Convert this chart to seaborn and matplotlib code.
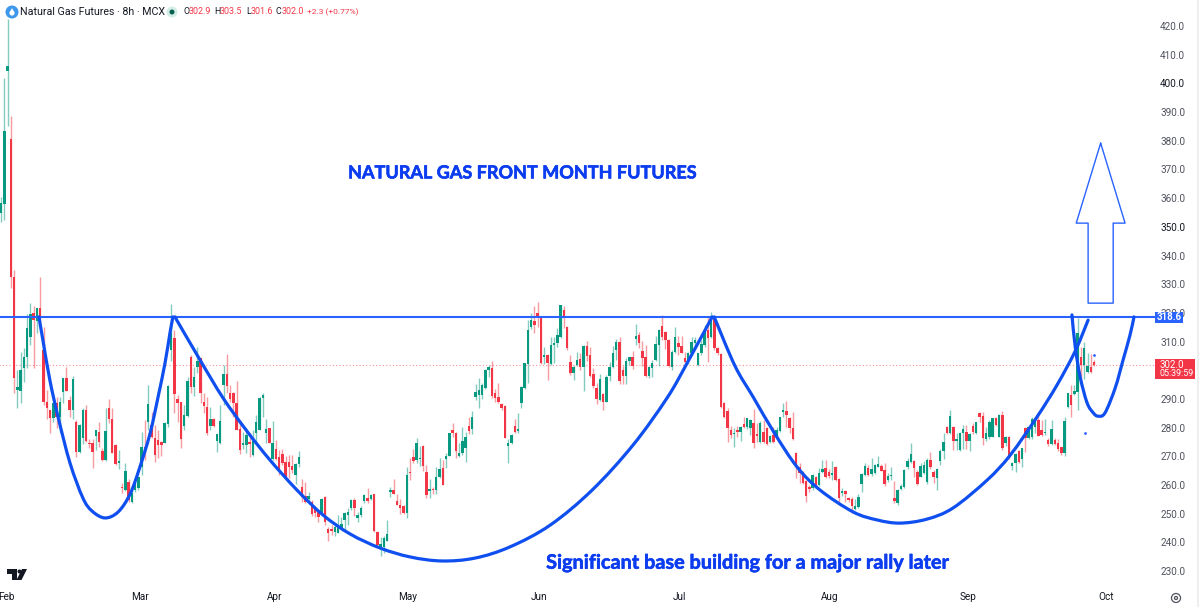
import matplotlib
matplotlib.use("Agg")
import matplotlib.pyplot as plt
import matplotlib.patheffects as pe
from matplotlib.patches import Circle, PathPatch, Polygon, Rectangle
from matplotlib.path import Path
from matplotlib.transforms import Affine2D
import numpy as np
import pandas as pd
import seaborn as sns

# candles as (open, high, low, close)
bars_feb = [
    (354.7,360.5,351.8,358.2),(357.8,402,352.4,383.5),(404.5,422.5,385,406),(380.6,388.6,328.6,332.6),
    (332.6,335,292,297.2),(293,300,286.7,294),(292.9,306.5,288.5,300.1),(300.7,307.6,296,304.5),
    (304.5,319.6,300.7,314.6),(311.5,323.5,308.8,319.6),(319.8,322.4,300.9,317.5),(317,321.8,312.9,321.6),
    (321.6,332.4,316.4,317),(307,315,287.9,289),(289,293,283,286.7),(286,286.3,278,283.5),
    (283.5,288.7,281.8,288.5),(288.5,290.8,280,283.8),(283.8,290.8,278,289),(292.5,297.4,288.5,297.2),
    (297.2,301,292.7,292.9),(289.6,291,283.8,286.1),(286.1,298,282.9,296.8),(282,282.6,269.9,271.6),
    (271.5,281.2,271.3,281),(276.3,287,274.2,286.1),(286.1,287.9,275,275.4),(274.8,275.9,272.8,274.3),
    (274.7,276.2,265.8,271.4),(277,279.3,272.2,279),(278.6,282,273.4,275.1),(272,272.9,268.5,268.7),
    (268.7,286.7,268.5,278.9),(287,289.9,281.5,282.9),(282.9,286.7,271.1,271.3),(273.9,274.2,267,267.2),
    (267.8,272.2,265.4,268.1),(259.2,260.6,257.3,258.8),(258.2,267.5,258,265),(261,262,254,254.8),
]
bars_mar_apr = [
    (254.2,258.2,253.6,257.3),(258.2,261,257.5,260.5),(258.8,263,258.2,262.9),(266.4,278.6,263.5,273.4),
    (273.4,282.6,268.7,271),(282,295,279,288.2),(280.9,285.6,276.3,276.8),(276.3,280.9,268,270.4),
    (275.7,279.2,269.3,273.9),(275.1,275.5,270.2,273.9),(274.8,282,274.5,281.5),(281.3,295,280.3,294.5),
    (307,323,303.3,313),(311.1,314,285,291.7),(289.9,291.4,282,288.7),(288.8,289,273,276),
    (280.6,287.9,279.2,284.4),(284,297.5,283.7,296.2),(304.7,305.3,292,294),(294.3,301.2,291,297.5),
    (301,308,298.9,303.3),(304.1,304.3,288.5,292),(289,292,285,287.5),(287.3,290.8,277.4,278.2),
    (280.6,287.3,279.2,283),(283,283.2,280.2,280.6),(275.3,277.9,271.4,277.7),(274.7,287.9,274.4,282.4),
    (294.9,301.8,287.9,298.7),(298.7,305.7,292.2,294.5),(291.9,295,289,289.9),(292.2,292.4,283.8,288.5),
    (288.5,296.4,279,279.2),(279.4,282,270.8,272.2),(273.9,278.6,272.4,274.7),(273.9,279.7,271,277.4),
    (274.6,278,269.9,274.4),(270.4,279.2,270.2,275.4),(278,284.4,274.5,282),(279.2,290.8,279,290.2),
    (290.2,292,283.8,291.4),(278,282.9,274.5,279.4),(279.7,279.9,274.5,274.7),(268.9,282.4,268.7,274.7),
    (272.4,275.7,268.7,268.9),(269.9,272.2,263.5,265.2),(270.8,272.4,267,267.5),(268.1,270,261.7,262.3),
    (268.1,270.4,262.3,266.4),(266.6,270.4,264,265.2),(263.5,267.5,260.3,267.3),(267.3,271.8,266.4,269.9),
    (259.2,262,254.2,255.9),(256.1,261.1,253.6,254.2),(255,257.7,253.6,256.1),(254.2,254.8,249.2,249.9),
    (251.9,252.5,248.9,250.3),(250.7,251.2,247.2,248.7),(250.3,255.3,250.1,255.1),(255.7,256,246,247.2),
    (244.5,245.4,240.6,243.4),(244.5,245.9,242.6,244),(243.7,246.6,242.2,245.2),(243.4,249.5,243.1,245.7),
    (244.9,249,244.5,246.4),(247.8,250.7,244.3,250.1),(249.5,251.9,246,250.7),(251.9,255,251.2,254.8),
    (254.9,255.3,249.2,251.8),(248.4,250.7,247.2,249.5),(249.5,252.5,248.7,251.9),(254.5,257,253.8,256.5),
    (255.3,258.8,253.8,254.5),(255,257,254.8,256.5),(256.8,257,243.6,244),(243.7,243.9,238.5,239),
    (238.5,242,235.3,239.4),(238.5,242.2,236.2,241.4),(240.6,247.8,240.3,242.8),(257.7,259.4,255.7,258.2),
    (258.2,262,256.8,257),(254.5,257,253,253),(253,255,249.9,251.9),(252.7,253,250,250.3),
    (250.3,266.4,248.4,263.5),(264.5,269.5,261.7,264),
]
bars_may_jul = [
    (269.9,272.4,267.8,268.5),(268.7,276.3,267.8,274.5),(269,273.6,266.6,269.5),(273.6,274,265,266.6),
    (264.6,267,255.3,256.5),(258,262,255.3,258.5),(258.6,259.4,257,258.2),(258.2,266.4,257,262.9),
    (262.9,269.3,262.3,265.4),(265.8,268.7,260,260),(268.9,271,265.8,270.1),(270.1,278.2,270,278),
    (279,281.7,276.8,278),(278.2,278.6,269.3,272),(270.2,274.5,269.8,271),(271,280.3,270.5,275.4),
    (272.8,278.6,268.1,276.6),(280.6,283.8,277.9,278.9),(279.4,285.8,277.8,283.8),(290.6,295.2,289.6,292.5),
    (291.4,297.2,287,293.2),(291.4,295.4,289.9,294.9),(293.7,300.3,293.4,300.1),(300.1,301.8,297.5,301),
    (300.7,303.3,290.2,291),(292,293.3,289,290.2),(290.6,295.4,288.5,289),(288.1,288.7,286.1,286.7),
    (287.5,287.9,276.3,276.3),(273.7,275.9,267.5,274.7),(274.5,277.8,274.2,277.4),(280.6,282.9,278,278.6),
    (278.9,285.2,278.2,279.4),(288.5,294.5,286.7,294),(293.7,302.6,293.4,302.4),(302.2,317.5,295.4,314),
    (315.2,319.8,314.3,317.5),(317.3,322.4,312.9,315.8),(320,323.9,315,318.1),(318.1,318.3,302.2,302.4),
    (304.7,308,302.2,305.3),(305.3,305.7,296.6,302.4),(302.2,311.7,301.8,308.8),(308.8,311.7,302.4,309.4),
    (309.4,314.6,308,312.3),(311.7,322.7,311.4,322.7),(321,322.5,314.6,318.1),(315,315.4,307,307.6),
    (303,305.3,298.3,298.9),(299.2,301.8,296.6,301.2),(301.8,306.5,301.4,303.6),(303.8,305.9,300,301),
    (301,308.8,292.9,308.5),(308.5,310.2,303.3,305),(305.3,308.2,297.8,298),(298.7,300.7,293.7,294.5),
    (293.7,295.4,288.2,289.9),(289.6,298.7,289.4,296.8),(291.7,292,286.1,289),(289,298.3,288.8,297.5),
    (298,303,296.4,301),(301,308.5,300.7,306.1),(307,311,303.6,310),(310,311.5,295.2,296.4),
    (300.1,301.5,295.2,298),(298,304.1,295.2,303.3),(303.3,304.7,301.8,304.7),(304.7,306.8,300.3,301.5),
    (311,316.1,308.8,311.9),(312.3,313.4,307.6,309.6),(306.7,310.3,301.5,304.2),(304.7,308.8,297.8,298),
    (298,301.5,297.2,301),(300.7,303.6,297.5,302.4),(303.6,311.9,303.3,309.1),(308.8,314.3,301.5,314),
    (315.4,319.3,310.5,311.7),(313.4,313.8,307.3,310.5),(310.5,310.8,301,301.5),(301,307,300,306.5),
    (306.5,315.2,306.1,311.5),(309.4,311.9,305.3,308.2),(308.5,311.9,305.9,306.1),(304.1,306.5,302.2,303),
    (303,306.5,302.2,305.9),(305.9,311.7,305.6,310),(309.6,311.7,307.6,310.5),(301.7,306.1,301.4,305.9),
    (305.9,310.5,305.3,309.1),(308.8,315.8,308.2,313.4),(314,318.7,303,311.1),(311.7,320.4,311.1,317.7),
    (317.7,318,307.2,307.6),(307.6,308,305.3,305.9),(305.7,306,286.8,287.1),(288.5,288.8,283.2,283.8),
    (285.9,286.7,275,279.7),(279.2,280.6,276.3,277.4),(277.7,280,273.4,278.2),(279.2,280.6,276.6,278.5),
]
bars_jul_sep = [
    (278.6,280.5,275.4,280.1),(281.2,283.8,280,280.1),(280.3,283.4,279.6,283.2),(279.7,282.9,277.4,282.7),
    (281.7,286.4,273,274.7),(277.4,281.5,275.1,277.1),(275.1,282.4,274.7,281.7),(278.6,282.6,274.7,275.1),
    (279.7,280.3,273.9,274.3),(275.1,277.4,274.7,277),(277.4,280.1,274.7,275.1),(277,280.3,276.8,279.1),
    (278.9,283.8,278.5,283.6),(285.6,288.5,283.8,286.1),(285.8,289.3,280.3,284.4),(283.2,283.6,278,279.7),
    (280,285.6,275.6,275.9),(271,271.6,262.3,266.4),(266.4,267.8,260.6,264.3),(264.1,264.7,260.3,260.6),
    (261.5,261.8,254.2,256.2),(259.2,260,257.7,258.6),(258.8,263.9,258.4,263.5),(262.7,263,258.9,259.2),
    (260,265.8,259.6,264.1),(264.6,268.7,264,265.4),(265.8,268.7,262.4,262.7),(264.6,265.4,262.6,263.1),
    (263.5,268.5,261.7,264.3),(266.4,266.7,261.4,261.7),(262,262.4,254.2,255.3),(257.3,258.8,256.2,257.8),
    (257.8,258.3,254.2,256.9),(255.3,255.7,254,254.8),(255,255.9,250.3,252.7),(251.5,255,251.2,252.7),
    (252.2,256.8,251.8,255.9),(260.3,264.3,257.7,263.8),(263.5,267.5,263.1,266.6),(265.8,267,263.1,263.5),
    (263.8,269.3,263.1,265.4),(264.3,267.2,263.8,267),(266.4,270,266.2,267.3),(266.6,267.3,264.7,265),
    (265.2,267.5,259.6,260.3),(261.7,264,261,263.1),(263,266.1,261.9,263.5),(255.4,261.5,253.6,254.5),
    (253.8,258.5,253,258.2),(258.5,260.3,258.2,259.6),(259.4,265.5,259.1,265.2),(266.1,269.3,265.4,268.5),
    (268.1,274.7,267.8,270.8),(268.5,268.8,262.9,265.8),(264.6,265.2,260,260.3),(262.9,267.5,262.7,266.6),
    (264,268.2,263.8,267),(261.1,269.3,260.5,268.7),(268.7,271.6,265.7,266.1),(264.6,265.2,260.6,262.7),
    (262.3,265.8,258.2,265.4),(268.5,272.5,267,272),(272,278.2,268.9,275.1),(280.1,280.6,277.8,278),
    (278,286.1,277.8,284),(280.3,280.6,272.2,275.4),(275.4,278.2,272.2,275.9),(272.2,278.6,272,278.2),
    (278,280.9,272.4,279.4),(278.6,280.9,272.4,275.4),(275.4,278.1,272,277.8),(280.6,281.7,277.8,278.6),
    (278,282.1,277.8,282),(285.2,285.6,282,283.8),(284,285.6,273.9,276.3),(275.9,280.3,275.4,278),
    (276.6,282.5,276.2,282.1),(276.8,283.4,276.6,283.2),(283.2,283.6,280.6,280.9),(276.8,284.7,276.6,284.4),
    (284.4,285.8,272.2,272.8),(274.7,277,273.6,276.8),(276.8,277,268.9,269.3),(266.6,268.1,265.2,267.8),
    (267.5,271,264.6,270.8),(272,272.3,267.8,268.1),(268.9,272.8,266.4,272.8),(279.7,280.3,271.6,276.3),
    (276.3,280.6,276,280.3),(276.6,283.8,276.2,282.9),(280.3,283.2,278,282.7),(282.7,285.6,277,277),
    (279.2,282.6,277,277.4),(278,282.9,277.4,278.6),(275.7,276.3,273.6,274.3),(274.3,282.6,274,279.4),
    (275.7,276.3,273.9,274.3),(274.5,275.9,272,272.4),(273.1,273.4,270.4,271),(271.3,283.6,270.1,282.4),
]
bars_sep = [
    (287.3,292,287,291.9),(291.4,294.9,283.6,287.9),(291.7,294.9,291.4,292.8),(292.5,318.1,286.1,312.9),
    (304.7,308.2,297.2,301.8),(301.8,310,296.8,307.6),(299.5,305.9,298.9,301.5),(301,305.7,299.2,299.5),
    (302.9,303.5,301.6,302.0),
]

# hand drawn cups, chart position and price of points along each
cup1_x = [11.5,12.7,14.8,17.3,20.9,24.8,27.6,31.5,35.5,39.1,42.1,45.2,47.6,49.7,51.2,52.1]
cup1_y = [318.6,310.5,296.6,283.7,267.7,255.5,250.9,248.5,250.6,256.8,266.3,278.1,290.7,302.5,313,318.6]
cup2_x = [52.7,60.3,67.3,74.5,81.5,89.7,97.6,105.8,114.9,124,133.6,143.6,154.2,166.4,179.1,191.5,201.8,207.9,215.5]
cup2_y = [318.6,303.6,290.3,278.8,268.7,258.2,249.5,242.9,238,234.9,233.5,234.5,238.4,246,258.2,273.9,290.3,302.5,318.6]
cup3_x = [216.1,222.4,227.9,234.5,241.2,248.2,258.2,265.5,272.4,280.6,288.5,298.8,305.8,313.9,320,325.5,329.4]
cup3_y = [318.6,301.5,290.7,277.8,266.3,258.2,250.6,247.8,246.7,248.1,252,261.7,270.4,283.7,294.9,306.7,317.5]
cup4_x = [324.5,325.5,327,329.1,331,332.4,334.5,337.6,340,342.1,343.3]
cup4_y = [319.3,308.1,297.6,288.6,285.1,284,285.1,293.8,303.6,312.3,318.6]
arrow_x = [333.2,340.6,337,337,329.4,329.4,325.8,333.2]
arrow_y = [379.2,351.3,351.3,323.4,323.4,351.3,351.3,379.2]
dots_x = [328.5,331.2]
dots_y = [278.1,305.3]

resistance = 318.6
last_price = 302.0
price_ticks = [230,240,250,260,270,280,290,300,310,320,330,340,350,360,370,380,390,400,410,420]
month_labels = ["Feb","Mar","Apr","May","Jun","Jul","Aug","Sep","Oct"]
month_bars = [1.5,42,83,123.3,163,205.5,251,293,335]

BLUE = "#0f4ff0"
LINE = "#2962ff"
GREEN = "#089981"
RED = "#f23645"

sns.set_theme(style="white")
plt.rcParams["font.family"] = ["Roboto", "DejaVu Sans"]

df = pd.DataFrame(bars_feb + bars_mar_apr + bars_may_jul + bars_jul_sep + bars_sep,
                  columns=["open","high","low","close"])
# candles sit a little tighter than the chart units, last one ends at 331.2
df["bar"] = np.arange(len(df)) * 331.2 / (len(df) - 1)
df["color"] = [GREEN if c >= o else RED for o, c in zip(df["open"], df["close"])]


def cup_path(xs, ys):
    # smooth curve through the read points
    pts = np.column_stack([xs, ys])
    verts = [pts[0]]
    codes = [Path.MOVETO]
    for i in range(len(pts) - 1):
        p0, p1 = pts[max(i - 1, 0)], pts[i]
        p2, p3 = pts[i + 1], pts[min(i + 2, len(pts) - 1)]
        verts += [p1 + (p2 - p0) / 6, p2 - (p3 - p1) / 6, p2]
        codes += [Path.CURVE4] * 3
    return Path(verts, codes)


fig = plt.figure(figsize=(11.99, 6.07), dpi=100)
ax = fig.add_axes([0, 0, 1, 1])
# one pixel in the figure, y going down like in the screenshot
pix = Affine2D().scale(1, -1).translate(0, 607)

ax.vlines(df["bar"], df["low"], df["high"], colors=df["color"], linewidth=1.0, alpha=0.5, zorder=2)
ax.bar(df["bar"], (df["close"] - df["open"]).abs().clip(lower=0.5), bottom=df[["open","close"]].min(axis=1),
       width=0.75, color=df["color"], linewidth=0, zorder=3)

line_end = 349.7
ax.hlines(resistance, -1, line_end, color=LINE, linewidth=1.5, zorder=4)
ax.hlines(last_price, -1, line_end, color=RED, linewidth=0.8, linestyle=(0, (1, 2)), alpha=0.55, zorder=1)

for cx, cy in [(cup1_x, cup1_y), (cup2_x, cup2_y), (cup3_x, cup3_y), (cup4_x, cup4_y)]:
    ax.add_patch(PathPatch(cup_path(cx, cy), fill=False, edgecolor=BLUE, linewidth=2.3, capstyle="round",
                           joinstyle="round", zorder=5))
sns.lineplot(x=arrow_x, y=arrow_y, sort=False, estimator=None, color=LINE, linewidth=1.0, ax=ax, zorder=5)
sns.scatterplot(x=dots_x, y=dots_y, s=4, color=LINE, linewidth=0, ax=ax, zorder=5)

heavier = [pe.withStroke(linewidth=0.4, foreground="#0b3cf0")]
ax.text(157.9, 368.8, "NATURAL GAS FRONT MONTH FUTURES", color="#0b3cf0", fontsize=13, fontweight="bold",
        family="Lato", ha="center", va="center", zorder=6, path_effects=heavier)
ax.text(226.5, 232.9, "Significant base building for a major rally later", color="#0b3cf0", fontsize=14.3,
        fontweight="bold", family="Lato", ha="center", va="center", zorder=6, path_effects=heavier)

ax.set_xlim(-0.3, 363)
ax.set_ylim(217.45, 429.1)
ax.set_xlabel("")
ax.set_ylabel("")
ax.set_yticks(price_ticks)
# 300.0 is fully under the red last price box
ax.set_yticklabels(["" if p == 300 else f"{p:.1f}" for p in price_ticks])
ax.set_xticks(month_bars)
ax.set_xticklabels(month_labels)
ax.yaxis.tick_right()
ax.tick_params(axis="y", length=0, pad=-28, labelsize=7.2, labelcolor="#50535e")
ax.tick_params(axis="x", length=0, pad=-11, labelsize=7.2, labelcolor="#131722")
for lab, p in zip(ax.get_yticklabels(), price_ticks):
    lab.set_ha("left")
    if p in (400, 350):
        lab.set_color("#131722")
sns.despine(ax=ax, left=True, bottom=True, right=True, top=True)

# price scale labels
fig.add_artist(Rectangle((1155, 312), 28, 11, color=LINE, linewidth=0, transform=pix, zorder=7))
fig.text(1169, 317.5, "318.6", color="white", fontsize=7, fontweight="bold", ha="center", va="center",
         transform=pix, zorder=8)
fig.add_artist(Rectangle((1155, 359), 40, 20, color=RED, linewidth=0, transform=pix, zorder=7))
fig.text(1160, 364.5, "302.0", color="white", fontsize=7, ha="left", va="center", transform=pix, zorder=8)
fig.text(1160, 373.5, "05:39:59", color="white", fontsize=6.4, ha="left", va="center", transform=pix, zorder=8)
fig.add_artist(Rectangle((1197, 0), 2, 607, color="#eeeeee", linewidth=0, transform=pix, zorder=7))

# header
fig.add_artist(Circle((12, 12), 6.5, color="#3d97ea", linewidth=0, transform=pix, zorder=7))
fig.add_artist(Circle((12, 13), 2.6, color="white", linewidth=0, transform=pix, zorder=8))
fig.add_artist(Polygon([(10, 12), (14, 12), (12, 8)], color="white", linewidth=0, transform=pix, zorder=8))
fig.text(20, 12, "Natural Gas Futures · 8h · MCX", color="#131722", fontsize=7.7, ha="left", va="center",
         transform=pix)
fig.add_artist(Circle((172, 12), 5.5, color="#d3eee9", linewidth=0, transform=pix, zorder=7))
fig.add_artist(Circle((172, 12), 2.5, color="#0a5f4d", linewidth=0, transform=pix, zorder=8))
for label, lx, value, vx in [("O", 183, "302.9", 189), ("H", 214, "303.5", 220), ("L", 246, "301.6", 251),
                             ("C", 276, "302.0", 282)]:
    fig.text(lx, 12, label, color="#131722", fontsize=6.4, ha="left", va="center", transform=pix)
    fig.text(vx, 12, value, color=RED, fontsize=6.4, ha="left", va="center", transform=pix)
fig.text(307, 12, "+2.3 (+0.77%)", color=RED, fontsize=6, ha="left", va="center", transform=pix)

# logo and settings gear
fig.add_artist(Polygon([(7, 569), (17, 569), (17, 580), (12, 580), (12, 574), (7, 574)], color="#131722",
                       linewidth=0, transform=pix, zorder=7))
fig.add_artist(Circle((19.5, 571.5), 2, color="#131722", linewidth=0, transform=pix, zorder=7))
fig.add_artist(Polygon([(22, 569), (27, 569), (21.5, 580), (16.5, 580)], color="#131722", linewidth=0,
                       transform=pix, zorder=7))
fig.add_artist(Circle((1176, 598), 4.5, fill=False, edgecolor="#50535e", linewidth=0.9, transform=pix, zorder=7))
fig.add_artist(Circle((1176, 598), 1.5, fill=False, edgecolor="#50535e", linewidth=0.9, transform=pix, zorder=7))

fig.savefig("out.png", dpi=100)
